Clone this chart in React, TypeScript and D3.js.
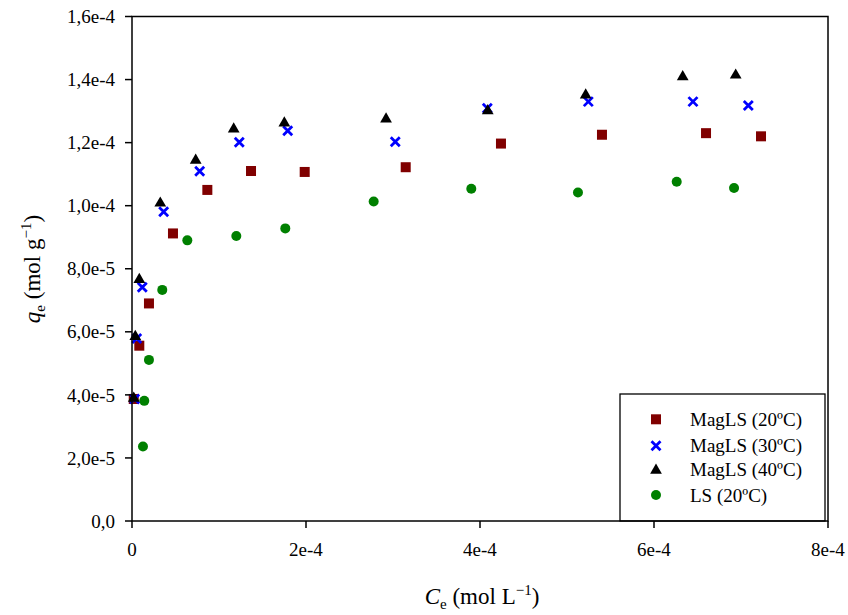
import React from "react";
import * as d3 from "d3";

const magls20X = [0.02e-4, 0.084e-4, 0.195e-4, 0.471e-4, 0.866e-4, 1.368e-4, 1.985e-4, 3.146e-4, 4.241e-4, 5.402e-4, 6.598e-4, 7.23e-4];
const magls20Y = [3.87e-5, 5.56e-5, 6.9e-5, 9.12e-5, 10.5e-5, 11.1e-5, 11.07e-5, 11.22e-5, 11.97e-5, 12.25e-5, 12.3e-5, 12.2e-5];

const magls30X = [0.031e-4, 0.054e-4, 0.118e-4, 0.364e-4, 0.778e-4, 1.233e-4, 1.79e-4, 3.026e-4, 4.084e-4, 5.245e-4, 6.448e-4, 7.084e-4];
const magls30Y = [3.87e-5, 5.79e-5, 7.41e-5, 9.81e-5, 11.09e-5, 12.01e-5, 12.38e-5, 12.03e-5, 13.09e-5, 13.3e-5, 13.3e-5, 13.18e-5];

const magls40X = [0.02e-4, 0.038e-4, 0.084e-4, 0.325e-4, 0.732e-4, 1.169e-4, 1.751e-4, 2.92e-4, 4.089e-4, 5.215e-4, 6.33e-4, 6.939e-4];
const magls40Y = [3.92e-5, 5.88e-5, 7.69e-5, 10.11e-5, 11.47e-5, 12.46e-5, 12.65e-5, 12.78e-5, 13.04e-5, 13.54e-5, 14.12e-5, 14.17e-5];

const ls20X = [0.126e-4, 0.141e-4, 0.195e-4, 0.348e-4, 0.636e-4, 1.199e-4, 1.762e-4, 2.778e-4, 3.9e-4, 5.126e-4, 6.261e-4, 6.92e-4];
const ls20Y = [2.36e-5, 3.81e-5, 5.11e-5, 7.33e-5, 8.9e-5, 9.04e-5, 9.28e-5, 10.13e-5, 10.54e-5, 10.42e-5, 10.76e-5, 10.56e-5];

const xTicks = [0, 2e-4, 4e-4, 6e-4, 8e-4];
const xTickLabels = ["0", "2e-4", "4e-4", "6e-4", "8e-4"];
const yTicks = [0, 2e-5, 4e-5, 6e-5, 8e-5, 1e-4, 1.2e-4, 1.4e-4, 1.6e-4];
const yTickLabels = ["0,0", "2,0e-5", "4,0e-5", "6,0e-5", "8,0e-5", "1,0e-4", "1,2e-4", "1,4e-4", "1,6e-4"];

const seriesNames = ["MagLS (20ºC)", "MagLS (30ºC)", "MagLS (40ºC)", "LS (20ºC)"];

const W = 848, H = 615;
const left = 132, right = 828, top = 16.5, bottom = 521;
const TS: React.CSSProperties = { fontFamily: '"Liberation Serif"' };

function Marker({ kind, x, y }: { kind: number; x: number; y: number }) {
  if (kind === 0) {
    return <rect x={x - 5} y={y - 5} width={10} height={10} fill="#800000" />;
  }
  if (kind === 1) {
    const s = 4.5;
    return (
      <path
        d={`M${x - s},${y - s}L${x + s},${y + s}M${x - s},${y + s}L${x + s},${y - s}`}
        stroke="#0000ff"
        strokeWidth={2.8}
        fill="none"
      />
    );
  }
  if (kind === 2) {
    const p = d3.symbol(d3.symbolTriangle, 60)();
    return <path d={p as string} transform={`translate(${x},${y + 1})`} fill="#000" />;
  }
  return <circle cx={x} cy={y} r={5} fill="#008000" />;
}

export default function App() {
  const xs = d3.scaleLinear().domain([0, 8e-4]).range([left, right]);
  const ys = d3.scaleLinear().domain([0, 1.6e-4]).range([bottom, top]);

  const series = [
    { xs: magls20X, ys: magls20Y },
    { xs: magls30X, ys: magls30Y },
    { xs: magls40X, ys: magls40Y },
    { xs: ls20X, ys: ls20Y },
  ];
  const order = [3, 0, 1, 2];

  const legX = 620, legY = 394, legW = 205, legH = bottom - 394;
  const legRows = [419.3, 445.7, 469.3, 495];

  return (
    <svg width={W} height={H} style={{ position: "absolute", left: 0, top: 0, background: "#fff" }}>
      <rect x={0} y={0} width={W} height={H} fill="#fff" />
      {order.map((si) =>
        series[si].xs.map((xv, i) => (
          <Marker key={`${si}-${i}`} kind={si} x={xs(xv)} y={ys(series[si].ys[i])} />
        ))
      )}
      <rect x={legX} y={legY} width={legW} height={legH} fill="#fff" stroke="#000" strokeWidth={1.3} />
      {seriesNames.map((n, i) => (
        <g key={n}>
          <Marker kind={i} x={656} y={legRows[i]} />
          <text x={690} y={legRows[i]} dy="0.35em" fontSize={19} fill="#000" style={TS}>
            {n}
          </text>
        </g>
      ))}
      <rect x={left} y={top} width={right - left} height={bottom - top} fill="none" stroke="#000" strokeWidth={1.5} />
      {yTicks.map((t, i) => (
        <g key={`y${i}`}>
          <line x1={left - 7} x2={left} y1={ys(t)} y2={ys(t)} stroke="#000" strokeWidth={1.5} />
          <text x={115} y={ys(t)} dy="0.35em" textAnchor="end" fontSize={19} fill="#000" style={TS}>
            {yTickLabels[i]}
          </text>
        </g>
      ))}
      {xTicks.map((t, i) => (
        <g key={`x${i}`}>
          <line x1={xs(t)} x2={xs(t)} y1={bottom} y2={bottom + 7} stroke="#000" strokeWidth={1.5} />
          <text x={xs(t)} y={556} textAnchor="middle" fontSize={19} fill="#000" style={TS}>
            {xTickLabels[i]}
          </text>
        </g>
      ))}
      <text x={482} y={604} textAnchor="middle" fontSize={23} fill="#000" style={TS}>
        <tspan fontStyle="italic">C</tspan>
        <tspan fontSize={15} dy={5}>e</tspan>
        <tspan dy={-5}> (mol L</tspan>
        <tspan fontSize={15} dy={-9}>−1</tspan>
        <tspan dy={9}>)</tspan>
      </text>
      <text transform={`translate(40,${269}) rotate(-90)`} textAnchor="middle" fontSize={23} fill="#000" style={TS}>
        <tspan fontStyle="italic">q</tspan>
        <tspan fontSize={15} dy={5}>e</tspan>
        <tspan dy={-5}> (mol g</tspan>
        <tspan fontSize={15} dy={-9}>−1</tspan>
        <tspan dy={9}>)</tspan>
      </text>
    </svg>
  );
}
